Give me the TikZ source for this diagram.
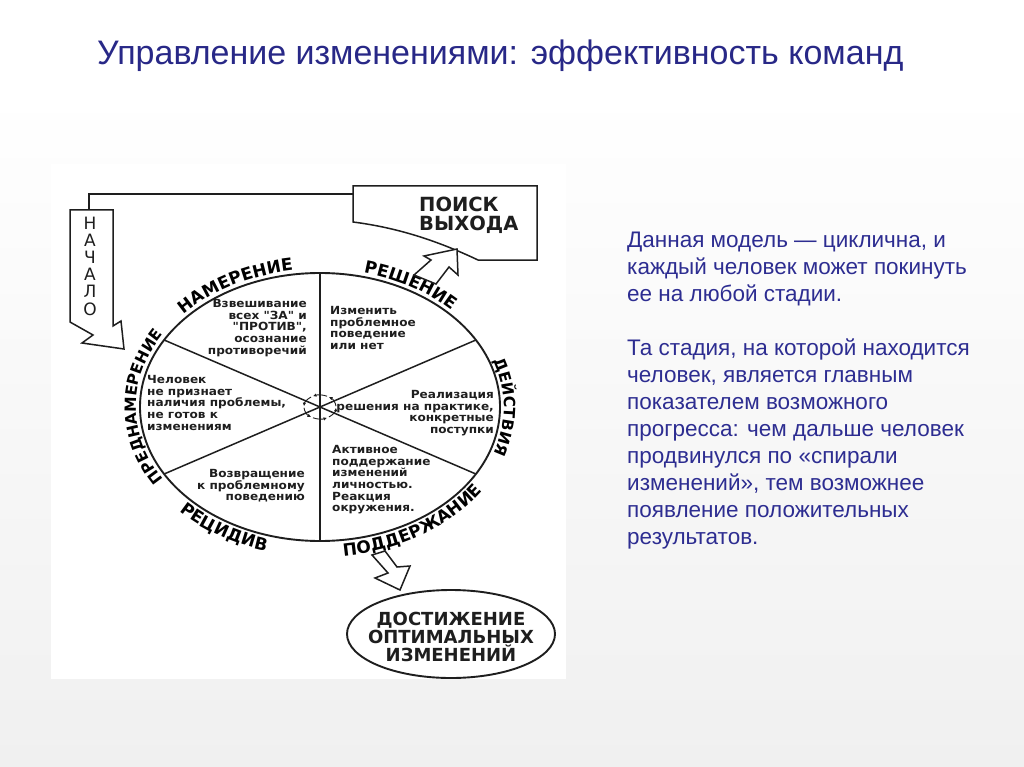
\documentclass[tikz,border=0pt]{standalone}
\usepackage{fontspec}
\setmainfont{Liberation Sans}
\newfontfamily\dvs{DejaVu Sans}
\usetikzlibrary{decorations.text,arrows.meta,calc}
\definecolor{titleblue}{RGB}{40,40,135}
\definecolor{textblue}{RGB}{45,45,145}
\definecolor{ink}{RGB}{30,30,30}
\definecolor{bggray}{RGB}{240,240,240}
\newcommand{\arcfont}{\dvs\bfseries\fontsize{17}{20}\selectfont}
\newcommand{\arcfontb}{\dvs\bfseries\fontsize{15.5}{20}\selectfont}
\tikzset{
  outline/.style={draw=ink, line width=1.9},
  spoke/.style={draw=ink, line width=1.5},
  blockarrow/.style={draw=ink, fill=white, line width=1.5, line join=miter},
  conn/.style={draw=ink, line width=1.5},
  sect/.style={font=\dvs\bfseries\fontsize{11.2}{11.7}\selectfont, inner sep=0, text=ink, xscale=1.08, transform shape},
  arclabel/.style={decorate, decoration={text along path, text align=center, text={|\arcfont|#1}}},
  arclabelb/.style={decorate, decoration={text along path, text align=center, text={|\arcfontb|#1}}},
  big/.style={font=\dvs\bfseries\fontsize{19.5}{18.5}\selectfont, inner sep=0, text=ink}
}
\begin{document}
\begin{tikzpicture}[x=1pt,y=1pt]
\useasboundingbox (0,0) rectangle (1024,-767);
% background
\fill[white] (0,0) rectangle (1024,-767);
\shade[top color=white, bottom color=bggray] (0,-90) rectangle (1024,-767);
\fill[white] (51,-164) rectangle (566,-679);
% title
\node[anchor=base west, inner sep=0, font=\fontsize{34}{40}\selectfont, text=titleblue] (title) at (97,-65) {Управление изменениями: эффективность команд};
% description
\node[anchor=north west, inner sep=0, align=left, font=\fontsize{22.5}{27}\selectfont, text=textblue] (desc) at (627,-232)
{Данная модель — циклична, и\\ каждый человек может покинуть\\ ее на любой стадии.\\[27pt]
Та стадия, на которой находится\\ человек, является главным\\ показателем возможного\\ прогресса: чем дальше человек\\ продвинулся по «спирали\\ изменений», тем возможнее\\ появление положительных\\ результатов.};
% wheel
\coordinate (C) at (320,-407);
\draw[outline] (C) ellipse[x radius=180, y radius=134];
\coordinate (sTop) at ($(C)+(90:180 and 134)$);
\coordinate (sBot) at ($(C)+(270:180 and 134)$);
\coordinate (sUR) at ($(C)+(30:180 and 134)$);
\coordinate (sLR) at ($(C)+(-30:180 and 134)$);
\coordinate (sUL) at ($(C)+(150:180 and 134)$);
\coordinate (sLL) at ($(C)+(210:180 and 134)$);
\draw[spoke] (sTop) -- (sBot);
\draw[spoke] (C) -- (sUR);
\draw[spoke] (C) -- (sLR);
\draw[spoke] (C) -- (sUL);
\draw[spoke] (C) -- (sLL);
% centre cycle icon
\foreach \a in {0,60,...,300}
  \draw[ink, line width=0.9, -{Latex[length=3.5pt,width=3.5pt]}] ($(C)+({\a+4}:16 and 12)$) arc[start angle=\a+4, end angle=\a+56, x radius=16, y radius=12];
% arc labels
\path[arclabel=НАМЕРЕНИЕ] ($(C)+(160:184 and 138)$) arc[start angle=160, end angle=80, x radius=184, y radius=138];
\path[arclabel=РЕШЕНИЕ] ($(C)+(98:184 and 138)$) arc[start angle=98, end angle=18, x radius=184, y radius=138];
\path[arclabelb=ДЕЙСТВИЯ] ($(C)+(42:184 and 138)$) arc[start angle=42, end angle=-42, x radius=184, y radius=138];
\path[arclabelb=ПРЕДНАМЕРЕНИЕ] ($(C)+(245:184 and 138)$) arc[start angle=245, end angle=115, x radius=184, y radius=138];
\path[arclabel=ПОДДЕРЖАНИЕ] ($(C)+(-104:196 and 150)$) arc[start angle=-104, end angle=-8, x radius=196, y radius=150];
\path[arclabel=РЕЦИДИВ] ($(C)+(-166:196 and 150)$) arc[start angle=-166, end angle=-81, x radius=196, y radius=150];
% sector texts
\node[sect, anchor=north east, align=right] (s1) at (307,-299) {Взвешивание\\ всех "ЗА" и\\ "ПРОТИВ",\\ осознание\\ противоречий};
\node[sect, anchor=north west, align=left] (s2) at (330,-306) {Изменить\\ проблемное\\ поведение\\ или нет};
\node[sect, anchor=north west, align=left] (s3) at (147,-375) {Человек\\ не признает\\ наличия проблемы,\\ не готов к\\ изменениям};
\node[sect, anchor=north east, align=right] (s4) at (494,-390) {Реализация\\ решения на практике,\\ конкретные\\ поступки};
\node[sect, anchor=north west, align=left] (s5) at (332,-445) {Активное\\ поддержание\\ изменений\\ личностью.\\ Реакция\\ окружения.};
\node[sect, anchor=north east, align=right] (s6) at (305,-469) {Возвращение\\ к проблемному\\ поведению};
% НАЧАЛО arrow
\draw[blockarrow] (70,-210) -- (113,-210) -- (113,-326) -- (121,-321) -- (124,-349) -- (82,-343) -- (93,-335) -- (70,-322) -- cycle;
\node[inner sep=0, align=center, font=\dvs\fontsize{17}{17.2}\selectfont, text=ink] (nachalo) at (90,-266) {Н\\А\\Ч\\А\\Л\\О};
% ПОИСК ВЫХОДА box
\draw[blockarrow] (353,-186) -- (537,-186) -- (537,-260) -- (478,-260) .. controls (440,-242) and (400,-228) .. (353,-222) -- cycle;
\node[big, anchor=north west, align=left] (poisk) at (419,-197) {ПОИСК\\ВЫХОДА};
\coordinate (nTop) at (89,-210);
\coordinate (pLeft) at (353,-194);
\draw[conn] (nTop) |- (pLeft);
% arrow from РЕШЕНИЕ to box
\draw[blockarrow] (414,-275) -- (431,-260) -- (424,-256) -- (457,-249) -- (458,-275) -- (449,-267) -- (436,-284) -- cycle;
% arrow to goal
\draw[blockarrow] (372,-555) -- (385,-551) -- (397,-567) -- (410,-566) -- (400,-590) -- (375,-578) -- (388,-573) -- cycle;
% goal ellipse
\draw[outline] (451,-634) ellipse[x radius=104, y radius=44];
\node[inner sep=0, align=center, font=\dvs\bfseries\fontsize{18}{18}\selectfont, text=ink] (goal) at (451,-637) {ДОСТИЖЕНИЕ\\ОПТИМАЛЬНЫХ\\ИЗМЕНЕНИЙ};
\end{tikzpicture}
\end{document}
